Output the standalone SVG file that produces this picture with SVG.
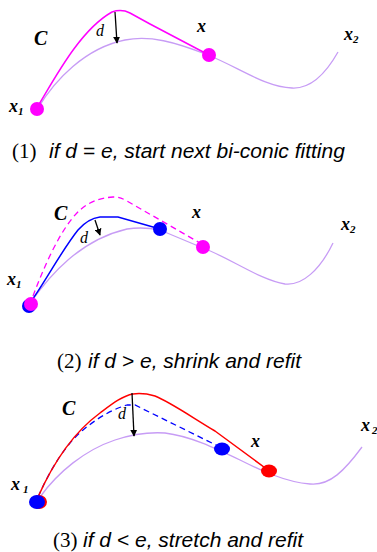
<svg xmlns="http://www.w3.org/2000/svg" width="377" height="552" viewBox="0 0 377 552">
<defs>
<style>
.lav{fill:none;stroke:#c79cf5;stroke-width:1.3}
.mag{fill:none;stroke:#ff00ff;stroke-width:1.5}
.magd{fill:none;stroke:#ff00ff;stroke-width:1.3;stroke-dasharray:6 4}
.blu{fill:none;stroke:#0000ff;stroke-width:1.5}
.blud{fill:none;stroke:#0000ff;stroke-width:1.3;stroke-dasharray:6 4}
.red{fill:none;stroke:#ff0000;stroke-width:1.5}
.arr{fill:none;stroke:#000;stroke-width:1.3;marker-end:url(#ah)}
.lbl{font-family:"Liberation Serif",serif;font-style:italic;font-weight:bold;font-size:18px;fill:#000}
.big{font-size:20px}
.sub{font-size:11px}
.dl{font-family:"Liberation Serif",serif;font-style:italic;font-size:16px;fill:#000}
.cap{font-family:"Liberation Serif",serif;font-size:21px;fill:#000}
.capi{font-family:"Liberation Sans",Arial,sans-serif;font-style:italic;font-size:21px;fill:#000}
</style>
<marker id="ah" viewBox="0 0 10 10" refX="9" refY="5" markerWidth="7" markerHeight="7" markerUnits="userSpaceOnUse" orient="auto">
<path d="M0,0 L10,5 L0,10 z" fill="#000"/>
</marker>
</defs>

<g id="connectors">
<!-- panel 1 -->
<path class="lav" d="M38,108 C55,80 85,48 125,40 C150,35 175,42 208,55 C240,68 265,87 292,88 C310,89 325,75 338,52"/>
<path class="mag" d="M38,106 C55,78 80,30 112,12 C118,10 124,10 130,13 L150,24 L207,54"/>
<line class="arr" x1="115" y1="12" x2="117" y2="43"/>
<!-- panel 2 -->
<path class="lav" d="M31,302 C50,275 80,240 127,229 C140,227 150,228 160,230 L203,248 C230,258 260,280 285,284 C302,286 320,270 333,243"/>
<path class="magd" d="M33,296 C42,272 60,228 80,210 C88,203 98,198 113,197 C118,197 122,198 127,201 L200,243"/>
<path class="blu" d="M32,300 C45,282 62,250 78,230 C85,222 92,218 100,217 L118,217 L160,229"/>
<line class="arr" x1="95" y1="220" x2="100" y2="235"/>
<!-- panel 3 -->
<path class="lav" d="M40,497 C58,472 85,450 115,440 C130,435 150,432 165,433 C190,436 215,448 240,460 C260,470 285,482 310,484 C330,486 345,470 362,447"/>
<path class="blud" d="M38,497 C50,470 65,445 83,430 C95,420 110,410 127,405 L135,405 L222,448"/>
<path class="red" d="M38,497 C50,470 70,435 100,413 C112,404 122,396 133,394 C140,393 148,394 155,396 C170,402 190,416 215,431 L268,470"/>
<line class="arr" x1="132" y1="393" x2="134" y2="436"/>
</g>

<g id="panel1">
<circle cx="37" cy="109" r="7" fill="#ff00ff"/>
<circle cx="209" cy="55" r="7" fill="#ff00ff"/>
<text class="lbl big" x="34" y="45">C</text>
<text class="dl" x="96" y="36">d</text>
<text class="lbl" x="197" y="32">x</text>
<text class="lbl" x="344" y="40">x<tspan class="sub" dy="3">2</tspan></text>
<text class="lbl" x="9" y="112">x<tspan class="sub" dy="3">1</tspan></text>
<text class="cap" x="12" y="158">(1)</text>
<text class="capi" x="49" y="158">if d = e, start next bi-conic fitting</text>
</g>

<g id="panel2">
<circle cx="29" cy="306" r="7" fill="#0000ff"/>
<circle cx="31" cy="304" r="7" fill="#ff00ff"/>
<circle cx="160" cy="229" r="7" fill="#0000ff"/>
<circle cx="203" cy="247" r="7" fill="#ff00ff"/>
<text class="lbl big" x="54" y="220">C</text>
<text class="dl" x="80" y="243">d</text>
<text class="lbl" x="192" y="218">x</text>
<text class="lbl" x="341" y="230">x<tspan class="sub" dy="3">2</tspan></text>
<text class="lbl" x="7" y="285">x<tspan class="sub" dy="3">1</tspan></text>
<text class="cap" x="57" y="368">(2)</text>
<text class="capi" x="88" y="368">if d &gt; e, shrink and refit</text>
</g>

<g id="panel3">
<ellipse cx="39" cy="502" rx="8" ry="7" fill="#ff0000"/>
<ellipse cx="37" cy="502" rx="8" ry="7" fill="#0000ff"/>
<ellipse cx="222" cy="449" rx="8" ry="6.5" fill="#0000ff"/>
<ellipse cx="269" cy="471" rx="8" ry="6.5" fill="#ff0000"/>
<text class="lbl big" x="62" y="415">C</text>
<text class="dl" x="118" y="419">d</text>
<text class="lbl" x="251" y="447">x</text>
<text class="lbl" x="361" y="431">x<tspan class="sub" dx="2" dy="3">2</tspan></text>
<text class="lbl" x="11" y="490">x<tspan class="sub" dx="3" dy="3">1</tspan></text>
<text class="cap" x="53" y="547">(3)</text>
<text class="capi" x="83" y="547">if d &lt; e, stretch and refit</text>
</g>
</svg>
